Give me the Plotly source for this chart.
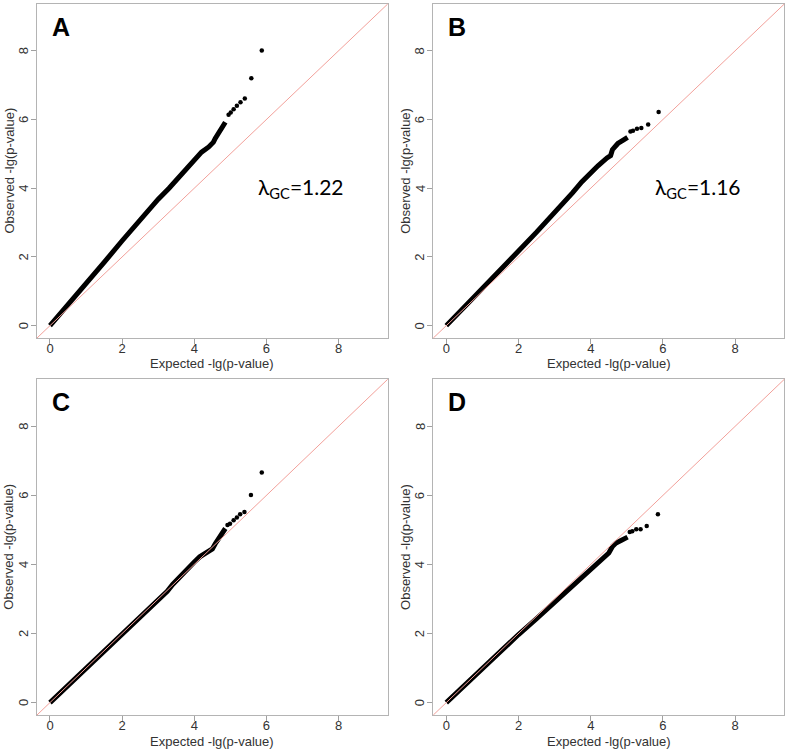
import plotly.graph_objects as go

# ---------------- data ----------------
AXIS_MIN, AXIS_MAX = -0.36, 9.36
TICKS = [0, 2, 4, 6, 8]
TICK_TEXT = ["0", "2", "4", "6", "8"]
PANEL_LABELS = ["A", "B", "C", "D"]
LAMBDA_LABELS = ["λ<sub>GC</sub>=1.22", "λ<sub>GC</sub>=1.16", None, None]
X_TITLE = "Expected -lg(p-value)"
Y_TITLE = "Observed -lg(p-value)"

# Panel A
a_body_exp = [0, 0.5, 1.0, 1.5, 2.0, 2.5, 3.0, 3.3, 3.5, 3.8, 4.0, 4.2, 4.4, 4.53, 4.58, 4.7, 4.86]
a_body_obs = [0, 0.6, 1.22, 1.84, 2.47, 3.08, 3.68, 4.0, 4.23, 4.6, 4.84, 5.05, 5.2, 5.34, 5.45, 5.68, 5.92]
a_tail_exp = [4.95, 5.01, 5.09, 5.18, 5.28, 5.40, 5.58, 5.87]
a_tail_obs = [6.14, 6.20, 6.30, 6.40, 6.50, 6.61, 7.20, 8.01]

# Panel B
b_body_exp = [0, 0.5, 1.0, 1.5, 2.0, 2.5, 3.0, 3.25, 3.5, 3.75, 4.0, 4.2, 4.45, 4.55, 4.6, 4.75, 4.9, 5.02]
b_body_obs = [0, 0.53, 1.07, 1.62, 2.17, 2.72, 3.27, 3.55, 3.87, 4.18, 4.47, 4.65, 4.88, 4.95, 5.12, 5.3, 5.4, 5.48]
b_tail_exp = [5.10, 5.17, 5.28, 5.40, 5.59, 5.88]
b_tail_obs = [5.65, 5.67, 5.73, 5.75, 5.85, 6.22]

# Panel C
c_body_exp = [0, 0.5, 1.0, 1.5, 2.0, 2.5, 3.0, 3.25, 3.4, 3.6, 3.8, 4.0, 4.15, 4.35, 4.5, 4.58, 4.65, 4.75, 4.86]
c_body_obs = [0, 0.5, 1.0, 1.5, 2.0, 2.5, 3.0, 3.22, 3.42, 3.65, 3.87, 4.07, 4.22, 4.36, 4.45, 4.6, 4.72, 4.9, 5.04]
c_tail_exp = [4.92, 4.99, 5.09, 5.18, 5.27, 5.39, 5.57, 5.87]
c_tail_obs = [5.14, 5.18, 5.28, 5.36, 5.45, 5.52, 6.01, 6.66]

# Panel D
d_body_exp = [0, 0.5, 1.0, 1.5, 2.0, 2.5, 3.0, 3.25, 3.5, 3.75, 4.0, 4.2, 4.4, 4.5, 4.6, 4.7, 4.85, 5.02]
d_body_obs = [0, 0.5, 1.0, 1.49, 1.97, 2.43, 2.9, 3.12, 3.38, 3.62, 3.87, 4.05, 4.22, 4.33, 4.52, 4.62, 4.7, 4.79]
d_tail_exp = [5.08, 5.15, 5.26, 5.38, 5.55, 5.86]
d_tail_obs = [4.94, 4.96, 5.02, 5.02, 5.11, 5.45]

bodies = [(a_body_exp, a_body_obs), (b_body_exp, b_body_obs),
          (c_body_exp, c_body_obs), (d_body_exp, d_body_obs)]
tails = [(a_tail_exp, a_tail_obs), (b_tail_exp, b_tail_obs),
         (c_tail_exp, c_tail_obs), (d_tail_exp, d_tail_obs)]

# ---------------- layout geometry ----------------
W, H = 787, 751
X_DOMAINS = [[37 / W, 387.7 / W], [433.3 / W, 784.3 / W]]
Y_DOMAINS = [[1 - 338 / H, 1 - 4 / H], [1 - 715 / H, 1 - 379.3 / H]]

FONT = "Liberation Sans, Arial, sans-serif"
TEXT_COLOR = "#333333"

fig = go.Figure()
annotations = []
shapes = []

for i in range(4):
    row, col = divmod(i, 2)
    suffix = "" if i == 0 else str(i + 1)
    xref, yref = "x" + suffix, "y" + suffix
    xd, yd = X_DOMAINS[col], Y_DOMAINS[row]

    bx, by = bodies[i]
    fig.add_trace(go.Scatter(x=bx, y=by, mode="lines",
                             line=dict(color="black", width=5),
                             xaxis=xref, yaxis=yref, hoverinfo="skip",
                             showlegend=False))
    tx, ty = tails[i]
    fig.add_trace(go.Scatter(x=tx, y=ty, mode="markers",
                             marker=dict(color="black", size=4.5),
                             xaxis=xref, yaxis=yref, showlegend=False))

    axis_common = dict(range=[AXIS_MIN, AXIS_MAX], showgrid=False, zeroline=False,
                       showline=True, linecolor="#b4b4b4", linewidth=1, mirror=True,
                       ticks="outside", ticklen=5, tickcolor="#a0a0a0", tickwidth=1,
                       tickvals=TICKS, ticktext=TICK_TEXT,
                       tickfont=dict(family=FONT, size=13, color=TEXT_COLOR))
    fig.layout["xaxis" + suffix] = dict(axis_common, domain=xd, anchor=yref,
                                        ticklabelstandoff=-7)
    fig.layout["yaxis" + suffix] = dict(axis_common, domain=yd, anchor=xref,
                                        showticklabels=False)

    # rotated y tick labels (parallel to the axis, as in R)
    for tv, tt in zip(TICKS, TICK_TEXT):
        annotations.append(dict(text=tt, xref="paper", yref=yref,
                                x=xd[0] - 13.5 / W, y=tv,
                                xanchor="center", yanchor="middle", showarrow=False,
                                textangle=-90,
                                font=dict(family=FONT, size=13, color=TEXT_COLOR)))

    # y = x reference line (ranges equal -> domain diagonal)
    shapes.append(dict(type="line", xref=xref + " domain", yref=yref + " domain",
                       x0=0, y0=0, x1=1, y1=1,
                       line=dict(color="#f2a09a", width=1), layer="above"))

    # panel letter
    annotations.append(dict(text="<b>%s</b>" % PANEL_LABELS[i], xref=xref, yref=yref,
                            x=0, y=8.7, xanchor="left", yanchor="middle", showarrow=False,
                            font=dict(family=FONT, size=25, color="black")))
    # lambda
    if LAMBDA_LABELS[i]:
        annotations.append(dict(text=LAMBDA_LABELS[i], xref=xref, yref=yref,
                                x=5.72, y=4.0, xanchor="left", yanchor="middle",
                                showarrow=False,
                                font=dict(family="Lato, Open Sans, sans-serif", size=21,
                                          color="black")))

    # axis titles
    annotations.append(dict(text=X_TITLE, xref="paper", yref="paper",
                            x=(xd[0] + xd[1]) / 2, y=yd[0] - 26 / H,
                            xanchor="center", yanchor="middle", showarrow=False,
                            font=dict(family=FONT, size=13, color=TEXT_COLOR)))
    annotations.append(dict(text=Y_TITLE, xref="paper", yref="paper",
                            x=xd[0] - 28.5 / W, y=(yd[0] + yd[1]) / 2,
                            xanchor="center", yanchor="middle", showarrow=False,
                            textangle=-90,
                            font=dict(family=FONT, size=13, color=TEXT_COLOR)))

fig.update_layout(width=W, height=H, margin=dict(l=0, r=0, t=0, b=0),
                  plot_bgcolor="white", paper_bgcolor="white",
                  annotations=annotations, shapes=shapes, showlegend=False)

fig.write_html("out.html", config={"displayModeBar": False},
               post_script="document.body.style.margin='0';"
                           "document.body.style.overflow='hidden';")
